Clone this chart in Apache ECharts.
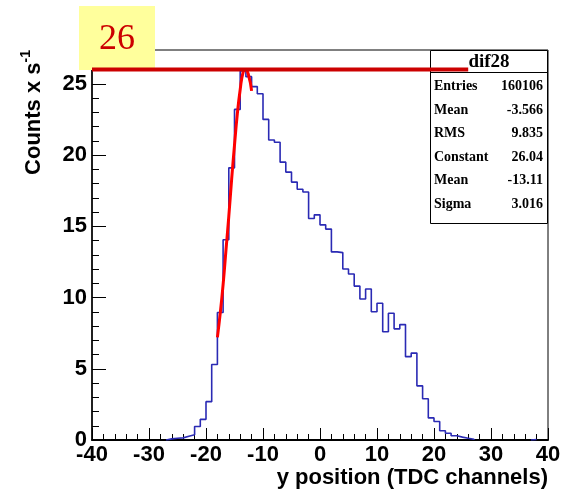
<!DOCTYPE html>
<html>
<head>
<meta charset="utf-8">
<style>
  html, body { margin: 0; padding: 0; background: #ffffff; }
  #chart { width: 564px; height: 490px; }
</style>
<script src="https://cdn.jsdelivr.net/npm/echarts/dist/echarts.min.js"></script>
</head>
<body>
<div id="chart"></div>
<script>
// Histogram dif28: counts per 1-channel bin, first bin starts at binStart
const binStart = -27;
const binWidth = 1;
const counts = [
  0.08, 0.12, 0.15, 0.27, 0.37, 0.95, 1.45, 2.69, 5.3, 8.95,
  14.05, 19.1, 23.2, 25.9, 25.5, 24.8, 24.3, 22.5, 21.05, 20.9,
  19.5, 18.8, 18.1, 17.6, 17.4, 15.55, 15.8, 15.1, 14.8, 13.2,
  13.15, 12.0, 11.65, 10.8, 9.9, 10.6, 9.0, 9.6, 7.6, 8.9,
  7.8, 8.1, 5.85, 6.1, 3.8, 2.9, 1.55, 1.3, 0.65, 0.47,
  0.3, 0.2, 0.12, 0.05
];
// isolated small bin near the right edge
const strayBinStart = 37;
const strayCounts = [0.04];

// Gaussian fit curve sampled along the fit range
const fitX = [-18.0, -17.5, -17.0, -16.5, -16.0, -15.5, -15.0, -14.5, -14.0, -13.5, -13.1, -12.6, -12.0];
const fitY = [7.2, 8.9, 10.9, 13.3, 15.7, 18.3, 20.7, 22.9, 24.6, 25.8, 26.0, 25.7, 24.5];

// Reference level line and its marker
const refLevel = 26;
const refLineX = [-40, 26];

// Statistics box
const statsTitle = 'dif28';
const statsLabels = ['Entries', 'Mean', 'RMS', 'Constant', 'Mean', 'Sigma'];
const statsValues = ['160106', '-3.566', '9.835', '26.04', '-13.11', '3.016'];

// Axis settings
const xRange = [-40, 40];
const xStep = 10;
const yStep = 5;
const yTop = 27.37;
const xTitle = 'y position (TDC channels)';

function histPoints(start, vals) {
  const pts = [[start, 0]];
  vals.forEach((v, i) => pts.push([start + i * binWidth, v]));
  const end = start + vals.length * binWidth;
  pts.push([end, vals[vals.length - 1]]);
  pts.push([end, 0]);
  return pts;
}

const chart = echarts.init(document.getElementById('chart'), null, { renderer: 'canvas' });

const axisFont = { fontFamily: 'Liberation Sans', fontWeight: 'bold', fontSize: 22, color: '#000' };
const histColor = '#2a2ab4';

const statsGraphics = [];
statsGraphics.push({
  type: 'rect', z: 5,
  shape: { x: 430.5, y: 50.5, width: 117, height: 173 },
  style: { fill: '#fff', stroke: '#000', lineWidth: 1 }
});
statsGraphics.push({
  type: 'line', z: 5,
  shape: { x1: 430.5, y1: 72.5, x2: 547.5, y2: 72.5 },
  style: { stroke: '#000', lineWidth: 1 }
});
statsGraphics.push({
  type: 'text', z: 6, x: 489, y: 62,
  style: { text: statsTitle, font: 'bold 19px "Liberation Serif"', fill: '#000', align: 'center', verticalAlign: 'middle' }
});
statsLabels.forEach((lab, i) => {
  const yy = 86.5 + i * 23.5;
  statsGraphics.push({
    type: 'text', z: 6, x: 434, y: yy,
    style: { text: lab, font: 'bold 14px "Liberation Serif"', fill: '#000', align: 'left', verticalAlign: 'middle' }
  });
  statsGraphics.push({
    type: 'text', z: 6, x: 543, y: yy,
    style: { text: statsValues[i], font: 'bold 14px "Liberation Serif"', fill: '#000', align: 'right', verticalAlign: 'middle' }
  });
});

const option = {
  backgroundColor: '#ffffff',
  animation: false,
  grid: {
    left: 92, right: 16, top: 50, bottom: 50,
    show: true, borderColor: '#000', borderWidth: 1, backgroundColor: 'transparent'
  },
  xAxis: {
    type: 'value',
    min: xRange[0], max: xRange[1], interval: xStep,
    axisLine: { show: true, onZero: false, lineStyle: { color: '#000', width: 2 } },
    axisTick: { show: true, inside: true, length: 12, lineStyle: { color: '#000', width: 1 } },
    minorTick: { show: true, splitNumber: 5, length: 6, lineStyle: { color: '#000', width: 1 } },
    axisLabel: Object.assign({ margin: 4 }, axisFont),
    splitLine: { show: false }
  },
  yAxis: {
    type: 'value',
    min: 0, max: yTop, interval: yStep,
    axisLine: { show: true, onZero: false, lineStyle: { color: '#000', width: 1.5 } },
    axisTick: { show: true, inside: true, length: 14, lineStyle: { color: '#000', width: 1 } },
    minorTick: { show: true, splitNumber: 5, length: 7, lineStyle: { color: '#000', width: 1 } },
    axisLabel: Object.assign({ margin: 5, showMaxLabel: false }, axisFont),
    splitLine: { show: false }
  },
  graphic: statsGraphics.concat([
    {
      type: 'rect', z: 10,
      shape: { x: 79, y: 6, width: 76, height: 64 },
      style: { fill: '#ffff9c' }
    },
    {
      type: 'text', z: 11, x: 117, y: 40,
      style: { text: String(refLevel), font: '36px "Liberation Serif"', fill: '#cc0000', align: 'center', verticalAlign: 'middle' }
    },
    {
      type: 'text', z: 11, x: 548, y: 478,
      style: { text: xTitle, font: 'bold 22px "Liberation Sans"', fill: '#000', align: 'right', verticalAlign: 'middle' }
    },
    {
      type: 'text', z: 11, x: 32, y: 50, rotation: Math.PI / 2,
      style: {
        text: '{a|Counts x s}{b|-1}',
        align: 'right', verticalAlign: 'middle',
        rich: {
          a: { fontFamily: 'Liberation Sans', fontWeight: 'bold', fontSize: 22, fill: '#000', lineHeight: 26, verticalAlign: 'bottom' },
          b: { fontFamily: 'Liberation Sans', fontWeight: 'bold', fontSize: 14, fill: '#000', lineHeight: 26, verticalAlign: 'top' }
        }
      }
    }
  ]),
  series: [
    {
      type: 'line', step: 'end', z: 3,
      data: histPoints(binStart, counts),
      symbol: 'none',
      lineStyle: { color: histColor, width: 1.6 }
    },
    {
      type: 'line', step: 'end', z: 3,
      data: histPoints(strayBinStart, strayCounts),
      symbol: 'none',
      lineStyle: { color: histColor, width: 1.6 }
    },
    {
      type: 'line', z: 20, smooth: true,
      data: fitX.map((x, i) => [x, fitY[i]]),
      symbol: 'none',
      lineStyle: { color: '#ff0000', width: 3 }
    },
    {
      type: 'line', z: 21,
      data: refLineX.map(x => [x, refLevel]),
      symbol: 'none',
      lineStyle: { color: '#cc0000', width: 4 }
    }
  ]
};

chart.setOption(option);
</script>
</body>
</html>
